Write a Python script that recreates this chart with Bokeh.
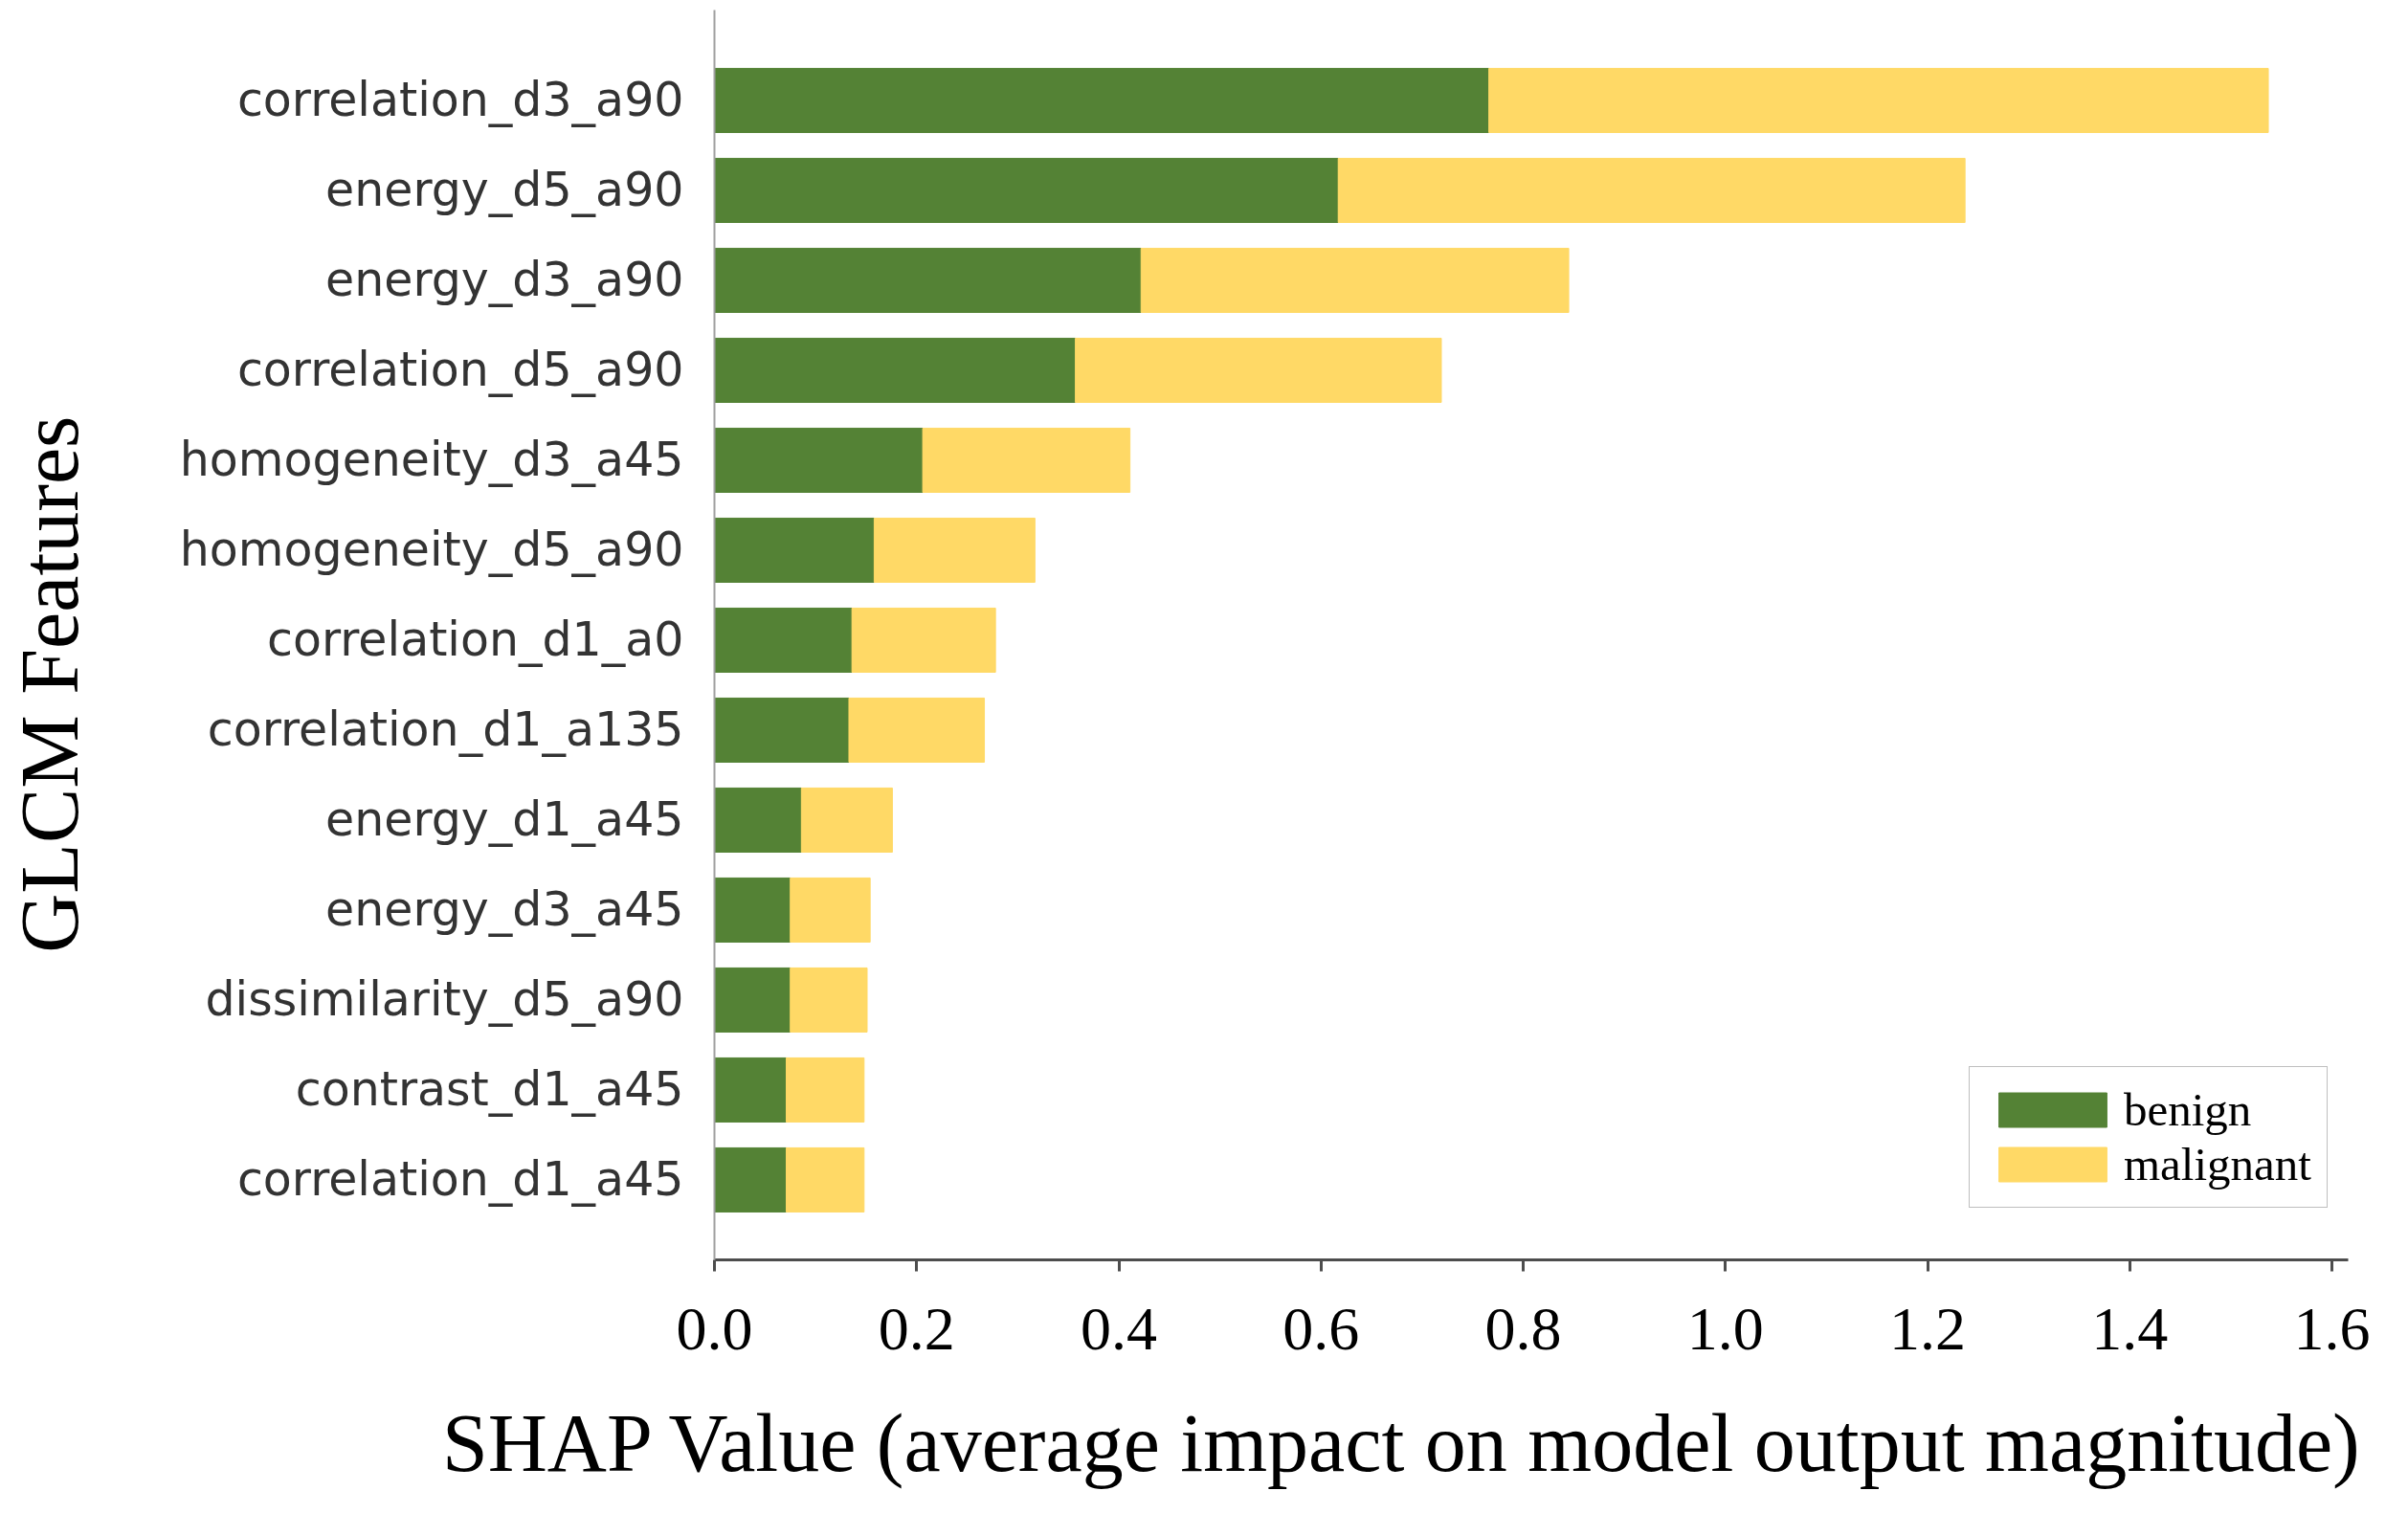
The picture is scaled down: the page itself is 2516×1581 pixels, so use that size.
from bokeh.plotting import figure
from bokeh.models import (Range1d, FixedTicker, PrintfTickFormatter, Legend,
                          LegendItem, ColumnDataSource, Title)
from bokeh.embed import file_html
from bokeh.resources import INLINE

# ---------------- data ----------------
features = ["correlation_d3_a90", "energy_d5_a90", "energy_d3_a90",
            "correlation_d5_a90", "homogeneity_d3_a45", "homogeneity_d5_a90",
            "correlation_d1_a0", "correlation_d1_a135", "energy_d1_a45",
            "energy_d3_a45", "dissimilarity_d5_a90", "contrast_d1_a45",
            "correlation_d1_a45"]
benign = [0.766, 0.617, 0.422, 0.357, 0.206, 0.158, 0.136, 0.133,
          0.086, 0.075, 0.075, 0.071, 0.071]
malignant = [0.771, 0.620, 0.423, 0.362, 0.205, 0.159, 0.142, 0.134,
             0.090, 0.079, 0.076, 0.077, 0.077]
series_names = ["benign", "malignant"]
x_ticks = [0.0, 0.2, 0.4, 0.6, 0.8, 1.0, 1.2, 1.4, 1.6]
x_title = "SHAP Value (average impact on model output magnitude)"
y_title = "GLCM Features"

GREEN = "#548235"
YELLOW = "#FFD966"
SERIF = "Liberation Serif"
SANS = "DejaVu Sans"

n = len(features)
ypos = list(range(n))[::-1]  # first feature at top
src = ColumnDataSource(dict(y=ypos, feature=features, benign=benign, malignant=malignant))

p = figure(width=2500, height=1578, output_backend="svg", toolbar_location=None,
           x_range=Range1d(0, 1.616), y_range=Range1d(-0.889, 13.005),
           min_border_left=746, min_border_right=47, min_border_top=10,
           min_border_bottom=262)
p.outline_line_color = None
p.xgrid.visible = False
p.ygrid.visible = False
p.background_fill_color = "white"
p.border_fill_color = "white"

rs = p.hbar_stack(series_names, y="y", height=0.713, color=[GREEN, YELLOW],
                  source=src, line_width=1)

# x axis
xa = p.xaxis[0]
xa.ticker = FixedTicker(ticks=x_ticks)
xa.formatter = PrintfTickFormatter(format="%.1f")
xa.minor_tick_line_color = None
xa.major_tick_in = 0
xa.major_tick_out = 12
xa.major_tick_line_width = 3
xa.major_tick_line_color = "#4d4d4d"
xa.axis_line_color = "#4d4d4d"
xa.axis_line_width = 3
xa.major_label_standoff = 39
xa.major_label_text_font = SERIF
xa.major_label_text_font_size = "64px"
xa.major_label_text_color = "black"

# y axis
ya = p.yaxis[0]
ya.ticker = FixedTicker(ticks=ypos)
ya.major_label_overrides = {y: f for y, f in zip(ypos, features)}
ya.minor_tick_line_color = None
ya.major_tick_in = 0
ya.major_tick_out = 0
ya.axis_line_color = "#a0a0a0"
ya.axis_line_width = 2
ya.major_label_standoff = 32
ya.major_label_text_font = SANS
ya.major_label_text_font_size = "49px"
ya.major_label_text_color = "#333333"
# y title (trailing spaces shift the visible text slightly downward)
ya.axis_label = y_title + "\u2002\u2002\u2009"
ya.axis_label_standoff = 85
ya.axis_label_text_font = SERIF
ya.axis_label_text_font_size = "86px"
ya.axis_label_text_font_style = "normal"
ya.axis_label_text_color = "black"

# x title, right-aligned under the axis
title_kw = dict(text=x_title, align="right", offset=-17, vertical_align="top",
                text_font=SERIF, text_font_size="86px", text_font_style="normal",
                text_color="black")
if "padding" in Title.properties():
    title_kw.update(standoff=0, padding=dict(left=0, right=0, top=47, bottom=0))
else:
    title_kw.update(standoff=94)
p.add_layout(Title(**title_kw), "below")

# legend
legend = Legend(items=[LegendItem(label=series_names[0], renderers=[rs[0]]),
                       LegendItem(label=series_names[1], renderers=[rs[1]])],
                location=(1311, 54), margin=0, padding=16, spacing=0,
                glyph_width=141, glyph_height=45, label_standoff=4,
                label_text_font=SERIF, label_text_font_size="49px",
                label_text_color="black",
                border_line_color="#808080", border_line_width=1.5,
                background_fill_color="white", background_fill_alpha=1.0)
p.add_layout(legend, "center")

open("out.html", "w").write(file_html(p, INLINE))
